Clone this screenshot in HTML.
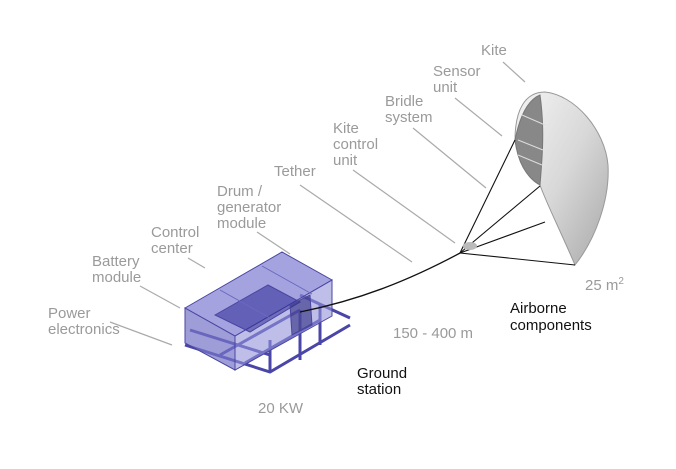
<!DOCTYPE html>
<html><head><meta charset="utf-8"><style>
html,body{margin:0;padding:0;background:#fff;}
svg{display:block}
text{font-family:"Liberation Sans",sans-serif;font-size:15px;fill:#9a9a9a}
.b{fill:#111}
</style></head><body>
<svg width="676" height="469" viewBox="0 0 676 469">
<defs>
<linearGradient id="k" x1="0" y1="0" x2="1" y2="1">
<stop offset="0" stop-color="#f4f4f4"/><stop offset="0.5" stop-color="#d8d8d8"/><stop offset="1" stop-color="#a8a8a8"/>
</linearGradient>
</defs>
<g stroke="#aaa" stroke-width="1.2">
<line x1="503" y1="62" x2="525" y2="82"/>
<line x1="455" y1="98" x2="502" y2="136"/>
<line x1="413" y1="128" x2="486" y2="188"/>
<line x1="353" y1="170" x2="455" y2="243"/>
<line x1="300" y1="185" x2="412" y2="262"/>
<line x1="257" y1="232" x2="290" y2="254"/>
<line x1="188" y1="258" x2="205" y2="268"/>
<line x1="140" y1="286" x2="180" y2="308"/>
<line x1="110" y1="322" x2="172" y2="345"/>
</g>
<!-- ground station frame -->
<g stroke="#4a46a8" stroke-width="3" fill="none">
<path d="M185,345 L270,372 L350,325 M190,330 L270,355 M300,295 L350,318 M220,355 L300,310 M245,363 L320,320 M270,372 L270,340 M300,360 L300,310 M320,345 L320,305"/>
</g>
<!-- box -->
<g stroke="#4a46a0" stroke-width="1">
<polygon points="185,308 282,252 332,280 235,336" fill="#8684d4" fill-opacity="0.75"/>
<polygon points="185,308 235,336 235,370 185,343" fill="#7674c8" fill-opacity="0.7"/>
<polygon points="235,336 332,280 332,316 235,370" fill="#9492da" fill-opacity="0.6"/>
<polygon points="215,315 268,285 300,302 250,332" fill="#2e2c96" fill-opacity="0.55"/>
<line x1="220" y1="290" x2="270" y2="318" stroke="#6a68c0"/>
<line x1="262" y1="266" x2="312" y2="294" stroke="#6a68c0"/>
<polygon points="290,305 310,295 312,325 292,335" fill="#2e2c80" fill-opacity="0.6"/>
</g>
<!-- tether -->
<path d="M300,312 C360,300 410,280 462,252" fill="none" stroke="#111" stroke-width="1.3"/>
<!-- kite -->
<path d="M515,140 C515,110 525,92 545,92 C575,95 605,130 608,165 C610,200 595,240 575,265 C560,230 545,200 540,185 C530,180 520,168 515,140 Z" fill="url(#k)" stroke="#999" stroke-width="1"/>
<path d="M515,140 C520,115 528,100 540,95 C545,130 542,160 540,185 C528,178 518,165 515,140 Z" fill="#888" stroke="#777"/>
<path d="M522,115 L545,125 M518,140 L543,150 M518,155 L542,165" stroke="#ddd" stroke-width="1"/>
<g stroke="#111" stroke-width="1.1">
<line x1="460" y1="253" x2="515" y2="140"/>
<line x1="460" y1="253" x2="540" y2="186"/>
<line x1="460" y1="253" x2="545" y2="222"/>
<line x1="460" y1="253" x2="575" y2="265"/>
</g>
<ellipse cx="470" cy="246" rx="7" ry="4" fill="#bbb"/>
<!-- labels -->
<text x="481" y="55">Kite</text>
<text x="433" y="76">Sensor</text><text x="433" y="92">unit</text>
<text x="385" y="106">Bridle</text><text x="385" y="122">system</text>
<text x="333" y="133">Kite</text><text x="333" y="149">control</text><text x="333" y="165">unit</text>
<text x="274" y="176">Tether</text>
<text x="217" y="196">Drum /</text><text x="217" y="212">generator</text><text x="217" y="228">module</text>
<text x="151" y="237">Control</text><text x="151" y="253">center</text>
<text x="92" y="266">Battery</text><text x="92" y="282">module</text>
<text x="48" y="318">Power</text><text x="48" y="334">electronics</text>
<text x="393" y="338">150 - 400 m</text>
<text x="258" y="413">20 KW</text>
<text x="585" y="290">25 m<tspan font-size="10" dy="-6">2</tspan></text>
<text class="b" x="357" y="378">Ground</text><text class="b" x="357" y="394">station</text>
<text class="b" x="510" y="313">Airborne</text><text class="b" x="510" y="330">components</text>
</svg>
</body></html>
